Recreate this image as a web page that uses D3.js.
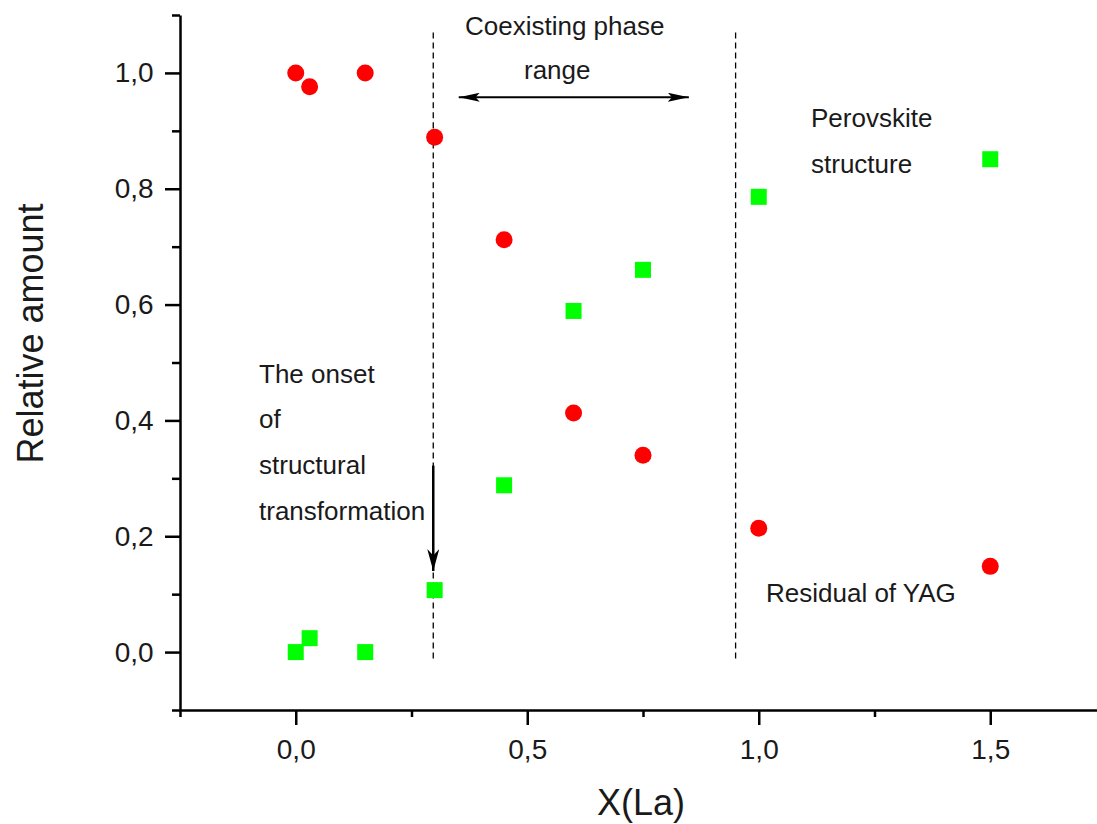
<!DOCTYPE html>
<html>
<head>
<meta charset="utf-8">
<script src="https://cdn.jsdelivr.net/npm/d3@7"></script>
<style>
  body { margin: 0; background: #fff; }
  text { font-family: "Liberation Sans", Arial, sans-serif; fill: #1a1a1a; }
</style>
</head>
<body>
<div id="chart"></div>
<script>
const xLa = [0, 0.03, 0.15, 0.3, 0.45, 0.6, 0.75, 1.0, 1.5];
const residualYag = [1.0, 0.976, 1.0, 0.889, 0.712, 0.413, 0.34, 0.214, 0.148];
const perovskite = [0.0, 0.024, 0.0, 0.107, 0.288, 0.589, 0.66, 0.786, 0.851];

const xMajor = [0, 0.5, 1.0, 1.5];
const xMinor = [-0.25, 0.25, 0.75, 1.25, 1.75];
const yMajor = [0, 0.2, 0.4, 0.6, 0.8, 1.0];
const yMinor = [-0.1, 0.1, 0.3, 0.5, 0.7, 0.9, 1.1];

const phaseBounds = [0.297, 0.95];

const width = 1097, height = 824;
const svg = d3.select("#chart").append("svg")
  .attr("width", width).attr("height", height);

const x = d3.scaleLinear().domain([-0.25, 1.75]).range([180, 1106]);
const y = d3.scaleLinear().domain([-0.1, 1.1]).range([710, 15]);
const fmt = d => d3.format(".1f")(d).replace(".", ",");

const defs = svg.append("defs");
defs.append("marker")
  .attr("id", "head")
  .attr("viewBox", "0 0 10 10")
  .attr("preserveAspectRatio", "none")
  .attr("refX", 10).attr("refY", 5)
  .attr("markerWidth", 21).attr("markerHeight", 9)
  .attr("markerUnits", "userSpaceOnUse")
  .attr("orient", "auto-start-reverse")
  .append("path").attr("d", "M0,0L10,5L0,10L2,5Z").attr("fill", "#000");
defs.append("marker")
  .attr("id", "headV")
  .attr("viewBox", "0 0 10 10")
  .attr("preserveAspectRatio", "none")
  .attr("refX", 10).attr("refY", 5)
  .attr("markerWidth", 22).attr("markerHeight", 12)
  .attr("markerUnits", "userSpaceOnUse")
  .attr("orient", "auto")
  .append("path").attr("d", "M0,0L10,5L0,10L3,5Z").attr("fill", "#000");

// axes
const xAxisG = svg.append("g").attr("transform", `translate(0,${y(-0.1)})`);
xAxisG.call(d3.axisBottom(x).tickValues(xMinor).tickSize(7).tickSizeOuter(0).tickFormat(""));
xAxisG.append("g").call(d3.axisBottom(x).tickValues(xMajor).tickSize(15).tickFormat(fmt))
  .call(g => g.select(".domain").remove());

const yAxisG = svg.append("g").attr("transform", `translate(${x(-0.25)},0)`);
yAxisG.call(d3.axisLeft(y).tickValues(yMinor).tickSize(8).tickSizeOuter(0).tickFormat(""));
yAxisG.append("g").call(d3.axisLeft(y).tickValues(yMajor).tickSize(15).tickFormat(fmt))
  .call(g => g.select(".domain").remove());

svg.selectAll(".domain, .tick line").attr("stroke", "#000").attr("stroke-width", 2.5);
xAxisG.selectAll("text").attr("font-size", 28).attr("dy", "1.1em")
  .attr("font-family", "Liberation Sans, Arial, sans-serif").attr("fill", "#1a1a1a");
yAxisG.selectAll("text").attr("font-size", 28).attr("dx", "-0.3em")
  .attr("font-family", "Liberation Sans, Arial, sans-serif").attr("fill", "#1a1a1a");

svg.append("text")
  .attr("x", 641).attr("y", 815)
  .attr("text-anchor", "middle").attr("font-size", 36)
  .text("X(La)");
svg.append("text")
  .attr("transform", `translate(43,${y(0.55)}) rotate(-90)`)
  .attr("text-anchor", "middle").attr("font-size", 36)
  .text("Relative amount");

// phase boundaries
svg.selectAll(".bound").data(phaseBounds).enter().append("line")
  .attr("class", "bound")
  .attr("x1", d => x(d)).attr("x2", d => x(d))
  .attr("y1", y(1.07)).attr("y2", y(-0.017))
  .attr("stroke", "#000").attr("stroke-width", 1.3)
  .attr("stroke-dasharray", "6,4");

// annotation arrows
svg.append("line")
  .attr("x1", x(0.352)).attr("x2", x(0.849))
  .attr("y1", y(0.958)).attr("y2", y(0.958))
  .attr("stroke", "#000").attr("stroke-width", 2)
  .attr("marker-start", "url(#head)").attr("marker-end", "url(#head)");
svg.append("line")
  .attr("x1", x(0.297)).attr("x2", x(0.297))
  .attr("y1", y(0.322)).attr("y2", y(0.14))
  .attr("stroke", "#000").attr("stroke-width", 2.5)
  .attr("marker-end", "url(#headV)");

// data
svg.selectAll(".yag").data(xLa).enter().append("circle")
  .attr("class", "yag")
  .attr("cx", d => x(d))
  .attr("cy", (d, i) => y(residualYag[i]))
  .attr("r", 8.5)
  .attr("fill", "#ff0000");

svg.selectAll(".per").data(xLa).enter().append("rect")
  .attr("class", "per")
  .attr("x", d => x(d) - 8)
  .attr("y", (d, i) => y(perovskite[i]) - 8)
  .attr("width", 16).attr("height", 16)
  .attr("fill", "#00ff00");

// labels
const notes = [
  { t: "Coexisting phase", x: 465, y: 35 },
  { t: "range", x: 524, y: 79 },
  { t: "Perovskite", x: 811, y: 127 },
  { t: "structure", x: 811, y: 173 },
  { t: "The onset", x: 259, y: 383 },
  { t: "of", x: 259, y: 428 },
  { t: "structural", x: 259, y: 474 },
  { t: "transformation", x: 259, y: 520 },
  { t: "Residual of YAG", x: 766, y: 602 }
];
svg.selectAll(".note").data(notes).enter().append("text")
  .attr("class", "note")
  .attr("x", d => d.x).attr("y", d => d.y)
  .attr("font-size", 26)
  .text(d => d.t);
</script>
</body>
</html>
